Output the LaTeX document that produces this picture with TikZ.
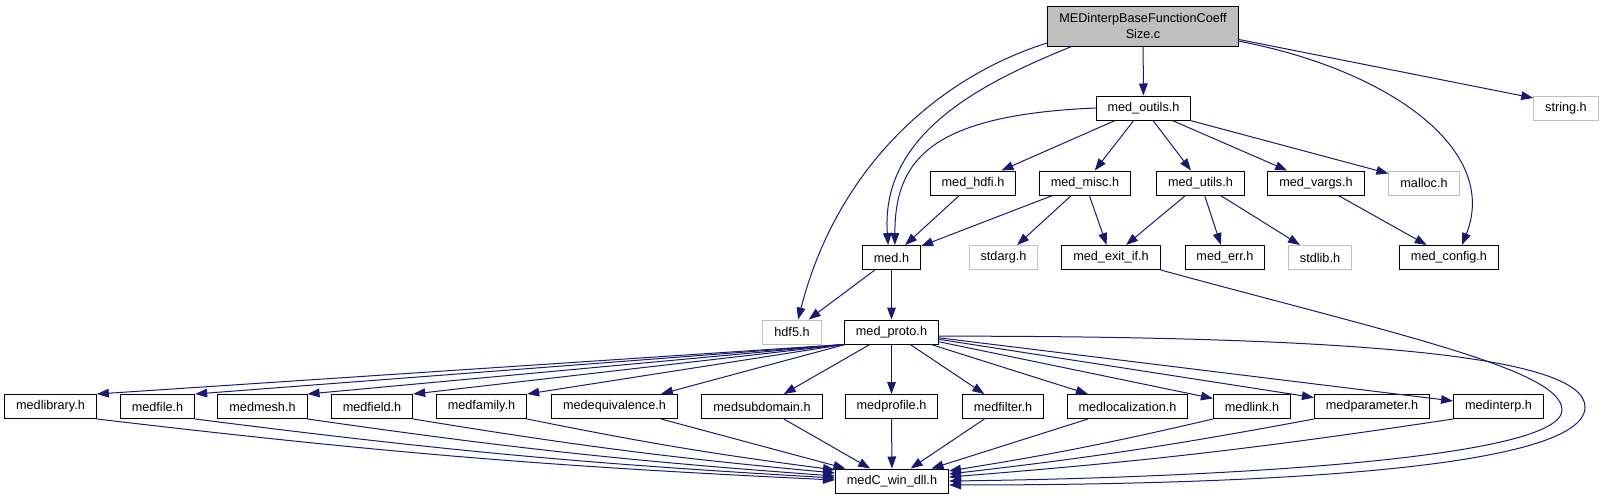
\documentclass[tikz,border=0pt]{standalone}
\usepackage{fontspec}
\setmainfont{Liberation Sans}
\usetikzlibrary{arrows.meta}
\definecolor{edgeblue}{RGB}{25,25,112}
\definecolor{sysgray}{RGB}{191,191,191}

\begin{document}
\begin{tikzpicture}[x=0.75pt, y=-0.75pt,
  every node/.style={font=\fontsize{9.5}{12}\selectfont},
  hdr/.style={draw=black, line width=0.75pt, fill=white, minimum height=18pt, inner xsep=8.6pt, inner ysep=0pt},
  sys/.style={hdr, draw=sysgray},
  dep/.style={draw=edgeblue, line width=0.75pt, -{Triangle[length=9pt,width=6.5pt]}}]
  \useasboundingbox (0,0) rectangle (1604,500);
  % source file
  \node[hdr, fill=sysgray, align=center, minimum height=30pt] (main) at (1143,26) {MEDinterpBaseFunctionCoeff\\Size.c};
  % first level
  \node[hdr] (outils) at (1143.5,108) {med\_outils.h};
  \node[sys] (string) at (1566,108) {string.h};
  % second level
  \node[hdr] (hdfi)   at (973,183)    {med\_hdfi.h};
  \node[hdr] (misc)   at (1085,183)   {med\_misc.h};
  \node[hdr] (utils)  at (1200.5,183) {med\_utils.h};
  \node[hdr] (vargs)  at (1316,183)   {med\_vargs.h};
  \node[sys] (malloc) at (1424,183)   {malloc.h};
  % third level
  \node[hdr] (med)    at (891.5,257.5)  {med.h};
  \node[sys] (stdarg) at (1003.5,257.5) {stdarg.h};
  \node[hdr] (exitif) at (1111,257.5)   {med\_exit\_if.h};
  \node[hdr] (err)    at (1225,257.5)   {med\_err.h};
  \node[sys] (stdlib) at (1320,257.5)   {stdlib.h};
  \node[hdr] (config) at (1449,257.5)   {med\_config.h};
  % fourth level
  \node[sys] (hdf)   at (792,332)   {hdf5.h};
  \node[hdr] (proto) at (891.5,332) {med\_proto.h};
  % fifth level
  \node[hdr] (library) at (50.5,406.5)   {medlibrary.h};
  \node[hdr] (file)    at (157.5,406.5)  {medfile.h};
  \node[hdr] (mesh)    at (262.5,406.5)  {medmesh.h};
  \node[hdr] (field)   at (372,406.5)    {medfield.h};
  \node[hdr] (family)  at (481.5,406.5)  {medfamily.h};
  \node[hdr] (equiv)   at (614.5,406.5)  {medequivalence.h};
  \node[hdr] (subdom)  at (762,406.5)    {medsubdomain.h};
  \node[hdr] (profile) at (891.5,406.5)  {medprofile.h};
  \node[hdr] (filter)  at (1003,406.5)   {medfilter.h};
  \node[hdr] (locali)  at (1127.5,406.5) {medlocalization.h};
  \node[hdr] (link)    at (1252,406.5)   {medlink.h};
  \node[hdr] (param)   at (1372,406.5)   {medparameter.h};
  \node[hdr] (interp)  at (1498.5,406.5) {medinterp.h};
  % bottom
  \node[hdr] (dll) at (892,481) {medC\_win\_dll.h};

  % from the source file
  \draw[dep] (main.190) .. controls (930,80) and (835,175) .. (hdf.64);
  \draw[dep] (main.196) .. controls (990,80) and (880,130) .. (med.105);
  \draw[dep] (main) -- (outils);
  \draw[dep] (main.-8) -- (string.163);
  \draw[dep] (main.-9) .. controls (1390,70) and (1500,150) .. (config.44);
  % from med_outils.h
  \draw[dep] (outils.west) .. controls (930,115) and (895,160) .. (med.75);
  \foreach \n in {hdfi,misc,utils,vargs,malloc}
    \draw[dep] (outils) -- (\n);
  % second level
  \draw[dep] (hdfi) -- (med);
  \foreach \n in {med,stdarg,exitif}
    \draw[dep] (misc) -- (\n);
  \foreach \n in {exitif,err,stdlib}
    \draw[dep] (utils) -- (\n);
  \draw[dep] (vargs) -- (config);
  % med.h
  \draw[dep] (med) -- (hdf);
  \draw[dep] (med) -- (proto);
  \draw[dep] (exitif.south east) .. controls (1400,335) and (1562,370) .. (1562,410)
    .. controls (1562,460) and (1200,478) .. (dll.0);
  % med_proto.h fan
  \foreach \n in {library,file,mesh,field,family}
    \draw[dep] (proto.south west) -- (\n.north east);
  \foreach \n in {equiv,subdom,profile,filter,locali,link,param,interp}
    \draw[dep] (proto) -- (\n);
  \draw[dep] (proto.-5) .. controls (1350,336) and (1585,355) .. (1585,407)
    .. controls (1585,470) and (1250,485) .. (dll.-4);
  % into medC_win_dll.h
  \foreach \n/\a in {library/179,file/177,mesh/175,field/172,family/169}
    \draw[dep] (\n.south east) to[bend right=2] (dll.\a);
  \foreach \n in {equiv,subdom,profile,filter,locali}
    \draw[dep] (\n) -- (dll);
  \foreach \n/\a in {link/10,param/7,interp/4}
    \draw[dep] (\n.south west) to[bend left=2] (dll.\a);
\end{tikzpicture}
\end{document}
